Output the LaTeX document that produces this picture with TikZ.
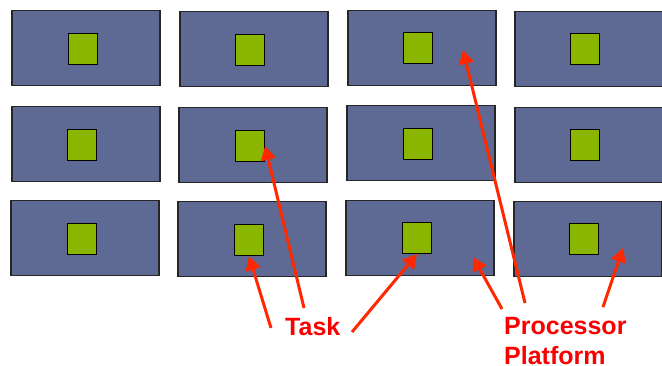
\documentclass[tikz,border=0pt]{standalone}
\usepackage{fontspec}
\setmainfont{Liberation Sans}
\usetikzlibrary{arrows.meta}
\definecolor{platcol}{RGB}{95,106,148}
\definecolor{taskcol}{RGB}{138,182,0}
\definecolor{arrcol}{RGB}{255,40,0}
\definecolor{labcol}{RGB}{250,0,0}
\begin{document}
\begin{tikzpicture}[x=1pt,y=-1pt]
      \useasboundingbox (0,0) rectangle (662,365);
      \begin{scope}[every node/.style={rectangle,draw=black!85,line width=1.2pt,fill=platcol,minimum width=148pt,minimum height=75pt,inner sep=0pt}]
        \node (p11) at (86,48) {};
        \node (p12) at (254,49) {};
        \node (p13) at (422,48) {};
        \node (p14) at (589,49) {};
        \node (p21) at (86,144) {};
        \node (p22) at (253,145) {};
        \node (p23) at (421,143) {};
        \node (p24) at (589,145) {};
        \node (p31) at (85,238) {};
        \node (p32) at (252,239) {};
        \node (p33) at (420,238) {};
        \node (p34) at (588,239) {};
      \end{scope}
      \begin{scope}[every node/.style={rectangle,draw=black,line width=1.2pt,fill=taskcol,minimum width=29pt,minimum height=31pt,inner sep=0pt}]
        \node (t11) at (83,49) {};
        \node (t12) at (250,50) {};
        \node (t13) at (418,48) {};
        \node (t14) at (585,49) {};
        \node (t21) at (82,145) {};
        \node (t22) at (250,146) {};
        \node (t23) at (418,144) {};
        \node (t24) at (585,145) {};
        \node (t31) at (82,239) {};
        \node (t32) at (249,240) {};
        \node (t33) at (417,238) {};
        \node (t34) at (584,239) {};
      \end{scope}
      \begin{scope}[every node/.style={text=labcol,font=\fontsize{25}{30}\selectfont\bfseries,inner sep=0pt,align=left}]
        \node[anchor=base west] (task) at (285,335) {Task};
        \node[anchor=base west] (proc) at (504,364) {Processor\\Platform};
      \end{scope}
      \coordinate (a1) at (271,328);
      \coordinate (a2) at (304,308);
      \coordinate (a3) at (352,332);
      \coordinate (a4) at (502,309);
      \coordinate (a5) at (525,303);
      \coordinate (a6) at (603,307);
      \coordinate (h4) at (473,257);
      \coordinate (h5) at (463,50);
      \coordinate (h6) at (623,248);
      \begin{scope}[every edge/.style={draw=arrcol,line width=3pt,-{Triangle[length=14pt,width=15pt]}}]
        \path (a1) edge (t32.south);
        \path (a2) edge (t22.east);
        \path (a3) edge (t33.south);
        \path (a4) edge (h4);
        \path (a5) edge (h5);
        \path (a6) edge (h6);
      \end{scope}
    \end{tikzpicture}
\end{document}
